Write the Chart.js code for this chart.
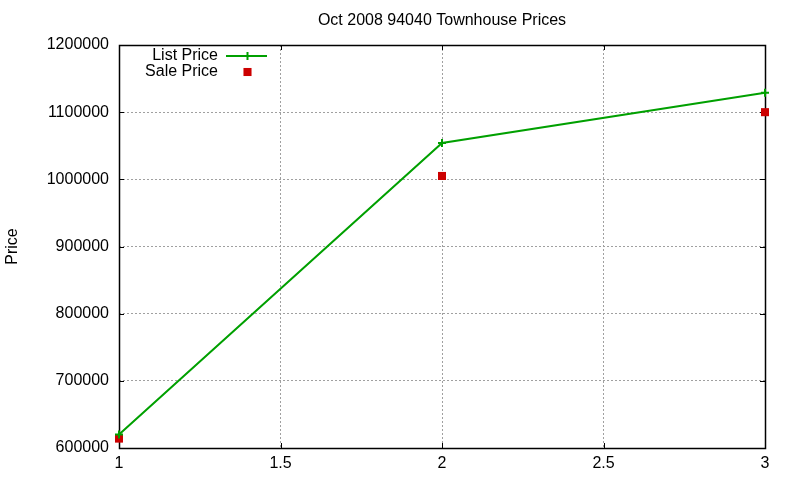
<!DOCTYPE html>
<html>
<head>
<meta charset="utf-8">
<script src="https://cdn.jsdelivr.net/npm/chart.js@4/dist/chart.umd.min.js"></script>
<style>
	html, body { margin: 0; padding: 0; background: #fff; }
	#wrap { width: 800px; height: 480px; }
</style>
</head>
<body>
<div id="wrap"><canvas id="canvas0"></canvas></div>
<script>
// Values
var xValues = [1, 2, 3];
var listPrices = [620000, 1054000, 1129000];
var salePrices = [614000, 1005000, 1100000];
var chartTitle = 'Oct 2008 94040 Townhouse Prices';
var yTitle = 'Price';

var fontFamily = '"Liberation Sans", Arial, sans-serif';
Chart.defaults.font.family = fontFamily;
Chart.defaults.font.size = 16;
Chart.defaults.color = '#000';

// gnuplot-like title, frame, inward ticks and legend inside the plot
var gnuplotLook = {
	id: 'gnuplotLook',
	beforeDatasetsDraw: function(chart) {
		let ctx = chart.ctx, a = chart.chartArea;
		ctx.save();
		// frame
		ctx.strokeStyle = '#000';
		ctx.lineWidth = 1.5;
		ctx.strokeRect(a.left + 0.5, a.top + 0.5, a.right - a.left, a.bottom - a.top);
		// inward tick marks, mirrored
		let tl = 5;
		ctx.lineWidth = 1;
		ctx.beginPath();
		chart.scales.y.ticks.forEach(function(t) {
			let y = Math.round(chart.scales.y.getPixelForValue(t.value)) + 0.5;
			ctx.moveTo(a.left, y); ctx.lineTo(a.left + tl, y);
			ctx.moveTo(a.right, y); ctx.lineTo(a.right - tl, y);
		});
		chart.scales.x.ticks.forEach(function(t) {
			let x = Math.round(chart.scales.x.getPixelForValue(t.value)) + 0.5;
			ctx.moveTo(x, a.bottom); ctx.lineTo(x, a.bottom - tl);
			ctx.moveTo(x, a.top); ctx.lineTo(x, a.top + tl);
		});
		ctx.stroke();
		ctx.restore();
	},
	afterDraw: function(chart) {
		let ctx = chart.ctx, a = chart.chartArea;
		ctx.save();
		// title
		ctx.fillStyle = '#000';
		ctx.font = '16px ' + fontFamily;
		ctx.textAlign = 'center';
		ctx.textBaseline = 'middle';
		ctx.fillText(chartTitle, (a.left + a.right) / 2, 21);
		// legend
		ctx.textAlign = 'right';
		let ds = chart.data.datasets;
		let textX = a.left + 99, y0 = a.top + 11, dy = 16;
		ds.forEach(function(d, i) {
			let y = y0 + i * dy;
			ctx.fillStyle = '#000';
			ctx.fillText(d.label, textX, y);
			let sx = textX + 8, ex = textX + 49, mx = (sx + ex) / 2 + 1;
			if(d.showLine !== false) {
				ctx.strokeStyle = d.borderColor;
				ctx.lineWidth = d.borderWidth;
				ctx.beginPath();
				ctx.moveTo(sx, y);
				ctx.lineTo(ex, y);
				ctx.stroke();
			}
			ctx.fillStyle = d.pointBackgroundColor;
			ctx.strokeStyle = d.pointBorderColor;
			ctx.lineWidth = d.pointBorderWidth;
			ctx.beginPath();
			if(d.pointStyle === 'rect') {
				let s = d.pointRadius * Math.SQRT1_2;
				ctx.fillRect(mx - s, y - s, 2 * s, 2 * s);
			} else {
				ctx.moveTo(mx, y - d.pointRadius);
				ctx.lineTo(mx, y + d.pointRadius);
				ctx.stroke();
			}
		});
		ctx.restore();
	}
};

let ctx = document.getElementById('canvas0').getContext('2d');
let chartJsOptions = {
	type: 'line',
	data: {
		datasets: [
			{
				label: 'List Price',
				data: xValues.map((x, i) => ({ x: x, y: listPrices[i] })),
				borderColor: '#00a000',
				backgroundColor: '#00a000',
				pointBackgroundColor: '#00a000',
				pointBorderColor: '#00a000',
				borderWidth: 2,
				pointStyle: 'cross',
				pointRadius: 4,
				pointBorderWidth: 2,
				lineTension: 0,
				fill: false
			},
			{
				label: 'Sale Price',
				data: xValues.map((x, i) => ({ x: x, y: salePrices[i] })),
				showLine: false,
				borderColor: '#cc0000',
				backgroundColor: '#cc0000',
				pointBackgroundColor: '#cc0000',
				pointBorderColor: '#cc0000',
				borderWidth: 0,
				pointStyle: 'rect',
				pointRadius: 5.7,
				pointBorderWidth: 0,
				fill: false
			}
		]
	},
	options: {
		responsive: true,
		maintainAspectRatio: false,
		animation: false,
		clip: false,
		layout: { padding: { top: 45, right: 35, left: 0, bottom: 0 } },
		scales: {
			x: {
				type: 'linear',
				min: 1,
				max: 3,
				ticks: {
					stepSize: 0.5,
					padding: 6,
					callback: function(v) { return String(v); }
				},
				grid: { color: '#a0a0a0', lineWidth: 1, drawTicks: false },
				border: { display: false, dash: [2, 2] },
				afterFit: function(scale) { scale.height = 32; }
			},
			y: {
				min: 600000,
				max: 1200000,
				ticks: {
					stepSize: 100000,
					padding: 10,
					callback: function(v) { return String(v); }
				},
				grid: { color: '#a0a0a0', lineWidth: 1, drawTicks: false },
				border: { display: false, dash: [2, 2] },
				title: { display: true, text: yTitle, padding: { top: 3, bottom: 0 } },
				afterFit: function(scale) { scale.width = 119; }
			}
		},
		plugins: {
			legend: { display: false },
			title: { display: false },
			tooltip: { enabled: false }
		}
	},
	plugins: [gnuplotLook]
};
let chart = new Chart(ctx, chartJsOptions);
</script>
</body>
</html>
